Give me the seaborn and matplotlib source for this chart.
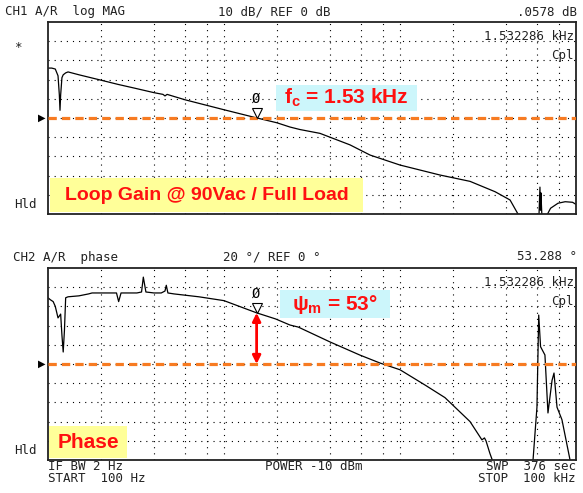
import numpy as np
import matplotlib
matplotlib.use('Agg')
import matplotlib.pyplot as plt
import matplotlib.transforms as mtrans
import seaborn as sns
from matplotlib.patches import Rectangle

# Loop gain magnitude (dB), 100 Hz .. 100 kHz sweep
mag_freq = [100, 105, 110, 114, 116, 117, 118, 120, 122, 126, 130, 150, 198, 250, 312,
            400, 450, 462, 475, 600, 730, 1000, 1532, 2000, 2370, 2700, 3510, 5200,
            6760, 10000, 16870, 25000, 34700, 42200, 46800, 55000, 61600, 62400,
            62800, 63200, 64000, 66000, 68000, 71700, 79000, 86800, 95600, 100000]
mag_db = [26, 26, 25.5, 22, 12, 4, 12, 21, 22.5, 23.5, 24, 22.5, 19.8, 17.5, 15.5,
          13.2, 12.3, 11.5, 12.3, 9.5, 7.5, 4.3, 0.06, -2.5, -4.7, -6, -8, -14,
          -19.3, -24.5, -29.7, -33, -38.4, -42.7, -50, -53, -51, -36,
          -48, -39, -51, -53, -51, -47, -44.4, -43.6, -43.9, -45]

# Loop gain phase (deg)
ph_freq = [100, 103, 107, 110, 114, 116, 118, 120, 122, 124, 126, 130, 150, 170, 178,
           185, 198, 230, 245, 252, 260, 300, 320, 340, 348, 360, 380, 400, 440,
           462, 470, 480, 520, 580, 720, 1000, 1532, 1960, 2370, 2640, 4000, 5900,
           7700, 10000, 13900, 18000, 20000, 25000, 29200, 30200, 30800, 32400,
           33600, 35000, 55000, 57000, 58500, 60000, 61400, 62900, 66600, 69300,
           73100, 75000, 78000, 83200, 92500, 100000]
ph_deg = [69, 67, 65, 60, 48, 50, 52, 30, 12.5, 35, 69, 70, 71, 73, 74,
          74, 74, 74, 74, 65, 74, 74, 74, 75, 90.5, 75, 74.5, 74, 74,
          76, 82, 74, 73, 72, 70, 66, 53.3, 47, 40.6, 38.5, 23, 9.4,
          1, -6, -22, -35, -43, -60, -79, -77, -80, -93,
          -101, -104, -104, -100, -72, -45, 51, 18, 9.4, -51,
          -17, -9.4, -45, -58, -100, -104]

ticks_x = [200, 400, 600, 800, 1000, 2000, 4000, 6000, 8000, 10000,
           20000, 40000, 60000, 80000]

fc = 1532.286
mag_at_fc = 0.0578
ph_at_fc = 53.288

W, H = 583, 493
orange = '#f77b22'


def fx(x):
    return x / W


def fy(y):
    return 1 - y / H


sns.set_style('white')
plt.rcParams['font.family'] = ['DejaVu Sans']
plt.rcParams['mathtext.fontset'] = 'custom'
plt.rcParams['mathtext.rm'] = 'Liberation Sans'
plt.rcParams['mathtext.bf'] = 'Liberation Sans:bold'

fig = plt.figure(figsize=(W / 100, H / 100), dpi=100)
fig.patch.set_facecolor('white')

# axes placed at the pixel positions of the instrument screen
ax1 = fig.add_axes([fx(48), fy(214), fx(528), 192 / H])
ax2 = fig.add_axes([fx(48), fy(460), fx(528), 192 / H])


def setup(ax, lim, step):
    ax.set_xscale('log')
    ax.set_xlim(100, 100000)
    ax.set_ylim(-lim, lim)
    ax.set_xticks(ticks_x)
    ax.set_xticks([], minor=True)
    ax.set_yticks(np.arange(-lim + step, lim, step))
    ax.tick_params(which='both', length=0, labelbottom=False, labelleft=False)
    ax.grid(True, color='black', linestyle=(0, (1, 4.5)), linewidth=0.8)
    for s in ax.spines.values():
        s.set_color('#222222')
        s.set_linewidth(1.3)
    ax.set_facecolor('white')
    ax.set_xlabel('')
    ax.set_ylabel('')


sns.lineplot(x=mag_freq, y=mag_db, ax=ax1, color='black', linewidth=0.9,
             sort=False, estimator=None)
sns.lineplot(x=ph_freq, y=ph_deg, ax=ax2, color='black', linewidth=0.9,
             sort=False, estimator=None)
setup(ax1, 50, 10)
setup(ax2, 100, 20)

# reference lines
for ax in (ax1, ax2):
    ax.axhline(0, color=orange, linewidth=2.3, linestyle=(0, (2.6, 1.6)), zorder=3)

# marker 0 at the crossover, triangle tip sitting on the trace
for ax, val in ((ax1, mag_at_fc), (ax2, ph_at_fc)):
    tr = mtrans.offset_copy(ax.transData, fig=fig, y=3.8, units='points')
    ax.plot([fc], [val], marker='v', markersize=7.5, markerfacecolor='white',
            markeredgecolor='black', markeredgewidth=0.8, linestyle='none',
            transform=tr, zorder=4)
    ax.annotate('Ø', xy=(fc, val), xytext=(0, 14), textcoords='offset points',
                ha='center', va='center', fontsize=10, color='black',
                family='DejaVu Sans Mono')

# phase margin arrow
ax2.annotate('', xy=(fc, 0), xytext=(fc, ph_at_fc),
             arrowprops=dict(arrowstyle='<|-|>', color='red', lw=2,
                             mutation_scale=12, shrinkA=0, shrinkB=0), zorder=5)

mono = dict(family='DejaVu Sans Mono', fontsize=9, color='#222222', va='center')

# header rows
fig.text(fx(5), fy(12), 'CH1 A/R  log MAG', ha='left', **mono)
fig.text(fx(218), fy(12), '10 dB/ REF 0 dB', ha='left', **mono)
fig.text(fx(577), fy(12), '.0578 dB', ha='right', **mono)
fig.text(fx(13), fy(257), 'CH2 A/R  phase', ha='left', **mono)
fig.text(fx(223), fy(257), '20 °/ REF 0 °', ha='left', **mono)
fig.text(fx(577), fy(257), '53.288 °', ha='right', **mono)

# inside-frame labels
for y0 in (22, 268):
    fig.text(fx(574), fy(y0 + 14), '1.532286 kHz', ha='right', **mono)
    fig.text(fx(574), fy(y0 + 34), 'Cpl', ha='right', **mono)

fig.text(fx(14), fy(48), '*', ha='left', **mono)
fig.text(fx(14), fy(205), 'Hld', ha='left', **mono)
fig.text(fx(14), fy(450), 'Hld', ha='left', **mono)

# reference position arrows on the left
for y0 in (118, 364):
    fig.text(fx(38), fy(y0), '▶', ha='left', va='center', fontsize=7, color='black')

# footer
fig.text(fx(48), fy(467), 'IF BW 2 Hz', ha='left', **mono)
fig.text(fx(48), fy(479), 'START  100 Hz', ha='left', **mono)
fig.text(fx(265), fy(467), 'POWER -10 dBm', ha='left', **mono)
fig.text(fx(576), fy(467), 'SWP  376 sec', ha='right', **mono)
fig.text(fx(576), fy(479), 'STOP  100 kHz', ha='right', **mono)

# highlighted labels
boxes = [
    (276, 85, 417, 111, '#ccf6fb', r'$\mathbf{f_c}$' + ' = 1.53 kHz', 15),
    (50, 178, 363, 212, '#ffff99', 'Loop Gain @ 90Vac / Full Load', 14),
    (280, 290, 390, 318, '#ccf6fb', r'$\mathbf{\psi_m}$' + ' = 53°', 15),
    (49, 426, 127, 458, '#ffff99', 'Phase', 15),
]
for x0, y0, x1, y1, col, label, size in boxes:
    fig.add_artist(Rectangle((fx(x0), fy(y1)), fx(x1 - x0), (y1 - y0) / H,
                             transform=fig.transFigure, facecolor=col,
                             edgecolor='none', zorder=5))
    fig.text(fx((x0 + x1) / 2), fy((y0 + y1) / 2), label, ha='center', va='center',
             fontsize=size, color='#ff1010', fontweight='bold',
             family='Liberation Sans', zorder=6)

plt.savefig('out.png', dpi=100)
